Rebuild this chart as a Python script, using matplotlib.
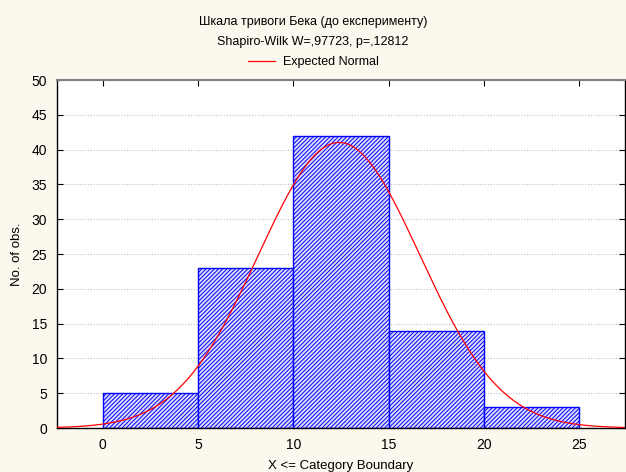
import numpy as np
import matplotlib
matplotlib.use("Agg")
import matplotlib.pyplot as plt

# histogram data
bin_left = [0, 5, 10, 15, 20]
counts = [5, 23, 42, 14, 3]
bin_width = 5
# expected normal parameters
mean_x = 12.4
sd_x = 4.23
n_obs = sum(counts)

BG = "#fdf8ee"
plt.rcParams["font.family"] = ["Liberation Sans", "DejaVu Sans"]
plt.rcParams["hatch.linewidth"] = 0.7
plt.rcParams["hatch.color"] = "#0000ff"

fig = plt.figure(figsize=(6.26, 4.72), dpi=100, facecolor=BG)
ax = fig.add_axes([57 / 626, 1 - 428 / 472, (625 - 57) / 626, (428 - 80) / 472])
ax.set_facecolor("white")

ax.bar(bin_left, counts, width=bin_width, align="edge", facecolor="#dcdcff",
       edgecolor="#0000ff", hatch="////////", linewidth=1.0, zorder=2)

xs = np.linspace(-2.4, 27.4, 400)
pdf = np.exp(-0.5 * ((xs - mean_x) / sd_x) ** 2) / (sd_x * np.sqrt(2 * np.pi))
ax.plot(xs, n_obs * bin_width * pdf, color="#ff0000", lw=0.9, zorder=3,
        label="Expected Normal")

ax.set_xlim(-2.4, 27.4)
ax.set_ylim(0, 50)
ax.set_xticks([0, 5, 10, 15, 20, 25])
ax.set_yticks(range(0, 51, 5))
ax.yaxis.grid(True, linestyle=(0, (1, 1.5)), color="#c0c0c0", lw=0.8, zorder=0)
ax.tick_params(direction="in", top=True, right=True, length=4, labelsize=10,
               colors="black", pad=7)
for s in ["left", "bottom", "right"]:
    ax.spines[s].set_color("black")
    ax.spines[s].set_linewidth(1.0)
ax.spines["top"].set_color("#808080")
ax.spines["top"].set_linewidth(1.5)

ax.set_xlabel("X <= Category Boundary", fontsize=9.5, labelpad=6)
ax.set_ylabel("No. of obs.", fontsize=9.5, labelpad=6)

fig.text(0.5, 1 - 22 / 472, "Шкала тривоги Бека (до експерименту)",
         ha="center", va="center", fontsize=9)
fig.text(0.5, 1 - 42 / 472, "Shapiro-Wilk W=,97723, p=,12812",
         ha="center", va="center", fontsize=9)
fig.legend(loc="center", bbox_to_anchor=(0.5, 1 - 62 / 472), frameon=False,
           fontsize=9, handlelength=2.2, handletextpad=0.6)

fig.savefig("out.png", dpi=100, facecolor=BG)
